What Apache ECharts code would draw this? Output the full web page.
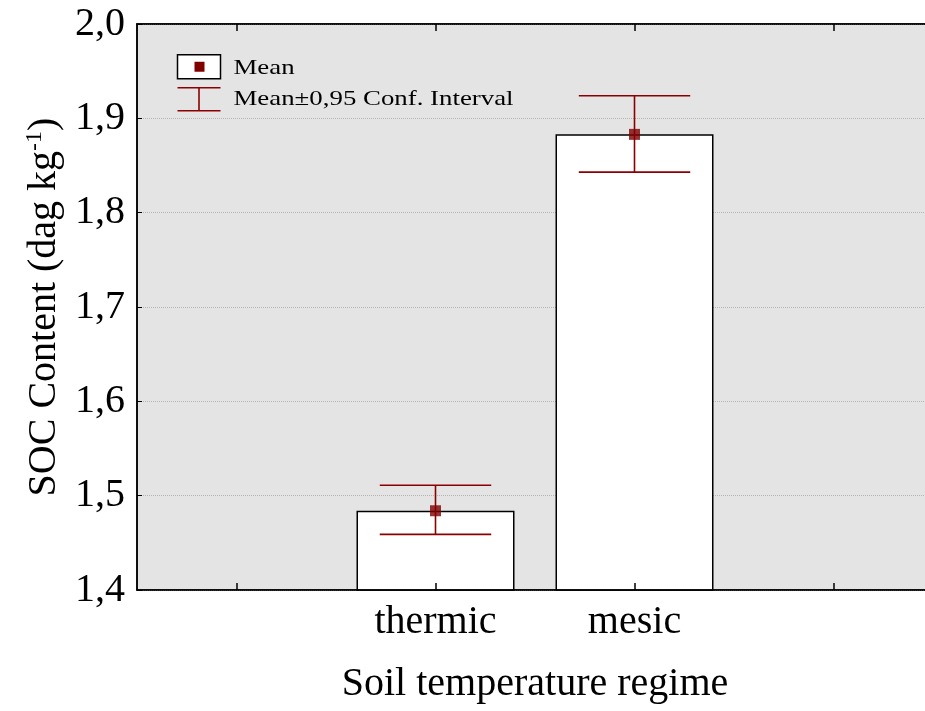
<!DOCTYPE html>
<html>
<head>
<meta charset="utf-8">
<title>SOC Content by soil temperature regime</title>
<script src="https://cdn.jsdelivr.net/npm/echarts@6/dist/echarts.min.js"></script>
<style>
  html, body { margin: 0; padding: 0; background: #fff; overflow: hidden; }
  /* plot runs a little past the right edge of the window, as in the original */
  #chart { width: 935px; height: 711px; }
</style>
</head>
<body>
<div id="chart"></div>
<script>
// categories (empty slots keep the outer tick marks)
const categories = ['', 'thermic', 'mesic', '']
// mean SOC and 95% confidence limits (dag kg-1)
const means = [null, 1.484, 1.883, null]
const lowerCI = [null, 1.459, 1.843, null]
const upperCI = [null, 1.511, 1.924, null]
const yTicks = [1.4, 1.5, 1.6, 1.7, 1.8, 1.9, 2.0]

const FONT = '"Liberation Serif", "Times New Roman", serif'
const RED = '#800000'

const errorData = categories
  .map((c, i) => [i, lowerCI[i], upperCI[i]])
  .filter(d => d[1] != null)
const meanData = categories
  .map((c, i) => [i, means[i]])
  .filter(d => d[1] != null)

const chart = echarts.init(document.getElementById('chart'))

const option = {
  animation: false,
  textStyle: { fontFamily: FONT, color: '#000' },
  grid: {
    left: 137, top: 24, right: 2, bottom: 121,
    show: true,
    backgroundColor: '#e4e4e4',
    borderColor: '#000',
    borderWidth: 1.5
  },
  xAxis: [
    {
      type: 'category',
      data: categories,
      boundaryGap: true,
      z: 10,
      name: 'Soil temperature regime',
      nameLocation: 'middle',
      nameGap: 74,
      nameTextStyle: { fontFamily: FONT, fontSize: 40, color: '#000' },
      axisLine: { lineStyle: { color: '#000', width: 1.5 } },
      axisTick: { show: true, inside: true, alignWithLabel: true, interval: 0, length: 7, lineStyle: { color: '#000', width: 1.5 } },
      axisLabel: { fontFamily: FONT, fontSize: 40, color: '#000', margin: 12, interval: 0 }
    },
    {
      type: 'category',
      data: categories,
      position: 'top',
      boundaryGap: true,
      z: 10,
      axisLine: { lineStyle: { color: '#000', width: 1.5 } },
      axisTick: { show: true, inside: true, alignWithLabel: true, interval: 0, length: 7, lineStyle: { color: '#000', width: 1.5 } },
      axisLabel: { show: false }
    }
  ],
  yAxis: {
    type: 'value',
    min: yTicks[0],
    max: yTicks[yTicks.length - 1],
    interval: 0.1,
    name: 'SOC Content (dag kg{sup|-1})',
    nameLocation: 'middle',
    nameGap: 64,
    nameTextStyle: {
      fontFamily: FONT, fontSize: 40, color: '#000',
      rich: {
        sup: { fontFamily: FONT, fontSize: 24, color: '#000', verticalAlign: 'top', padding: [0, 0, 18, 0] }
      }
    },
    axisLine: { show: true, lineStyle: { color: '#000', width: 1.5 } },
    axisTick: { show: true, inside: true, length: 5, lineStyle: { color: '#000' } },
    axisLabel: {
      fontFamily: FONT, fontSize: 40, color: '#000', margin: 12,
      formatter: v => v.toFixed(1).replace('.', ',')
    },
    splitLine: { show: true, lineStyle: { type: 'dotted', color: '#b4b4b4', width: 1 } }
  },
  series: [
    {
      type: 'bar',
      data: means,
      barWidth: 158,
      itemStyle: { color: '#fff', borderColor: '#000', borderWidth: 1.5 },
      z: 2
    },
    {
      type: 'custom',
      data: errorData,
      encode: { x: 0, y: [1, 2] },
      z: 3,
      renderItem: (params, api) => {
        const x = api.value(0)
        const lo = api.coord([x, api.value(1)])
        const hi = api.coord([x, api.value(2)])
        const half = api.size([1, 0])[0] * 0.28
        const style = { stroke: '#8b0000', lineWidth: 1.6 }
        return {
          type: 'group',
          children: [
            { type: 'line', shape: { x1: hi[0], y1: hi[1], x2: lo[0], y2: lo[1] }, style },
            { type: 'line', shape: { x1: hi[0] - half, y1: hi[1], x2: hi[0] + half, y2: hi[1] }, style },
            { type: 'line', shape: { x1: lo[0] - half, y1: lo[1], x2: lo[0] + half, y2: lo[1] }, style }
          ]
        }
      }
    },
    {
      type: 'scatter',
      data: meanData,
      symbol: 'rect',
      symbolSize: 11,
      itemStyle: { color: RED },
      z: 4
    }
  ],
  // legend drawn as a small key in the upper left of the plot
  graphic: [
    {
      type: 'group',
      left: 175,
      top: 54,
      children: [
        { type: 'rect', shape: { x: 0, y: 0, width: 43, height: 24 }, style: { fill: '#fff', stroke: '#000', lineWidth: 1.5 } },
        { type: 'rect', shape: { x: 17, y: 7, width: 10, height: 10 }, style: { fill: RED } },
        { type: 'text', x: 56, y: 13, scaleX: 1.22, style: { text: 'Mean', font: '22px ' + FONT, fill: '#000', textVerticalAlign: 'middle' } },
        { type: 'line', shape: { x1: 0, y1: 33, x2: 43, y2: 33 }, style: { stroke: '#8b0000', lineWidth: 1.6 } },
        { type: 'line', shape: { x1: 0, y1: 56, x2: 43, y2: 56 }, style: { stroke: '#8b0000', lineWidth: 1.6 } },
        { type: 'line', shape: { x1: 21.5, y1: 33, x2: 21.5, y2: 56 }, style: { stroke: '#8b0000', lineWidth: 1.6 } },
        { type: 'text', x: 56, y: 44, scaleX: 1.22, style: { text: 'Mean\u00b10,95 Conf. Interval', font: '22px ' + FONT, fill: '#000', textVerticalAlign: 'middle' } }
      ]
    }
  ]
}

chart.setOption(option)
window.addEventListener('resize', () => {
  chart.resize()
})
</script>
</body>
</html>
